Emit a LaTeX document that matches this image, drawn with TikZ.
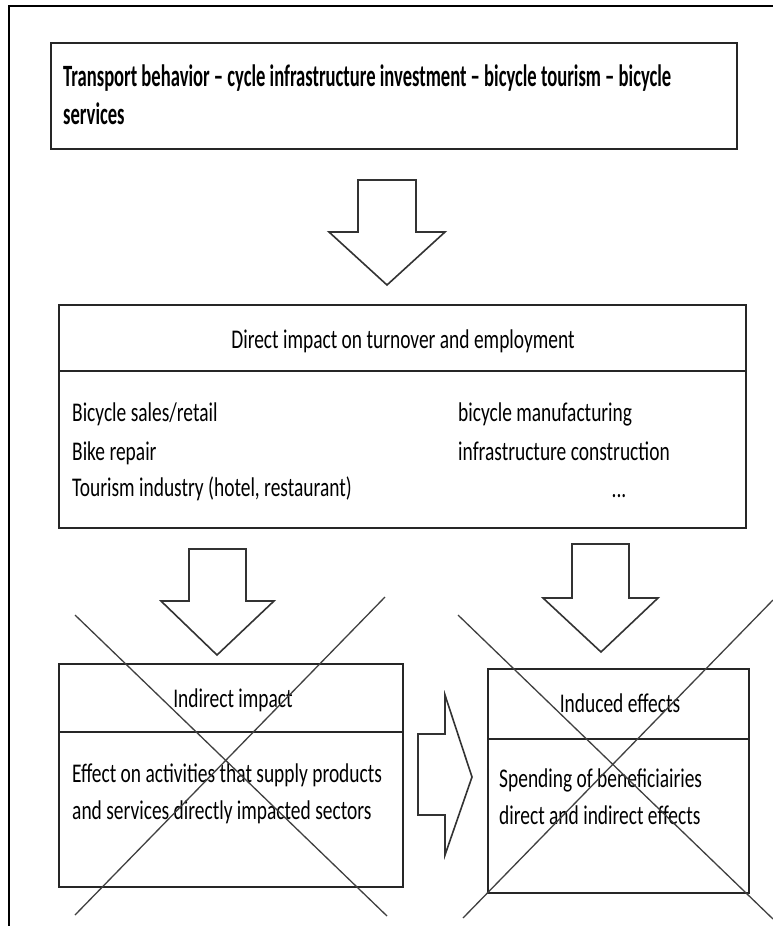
\documentclass[tikz,border=0pt]{standalone}
\usepackage{fontspec}
% Calibri-metric family, narrowed to the tall, condensed look of the chart
\newfontfamily\topfont[FakeStretch=0.6]{Carlito Bold}
\newfontfamily\bodyfont[FakeStretch=0.72]{Carlito}
\begin{document}
\begin{tikzpicture}[x=1pt,y=-1pt,
  frameline/.style={draw=black, line width=2pt},
  boxnode/.style={rectangle, draw=black!85, line width=2pt, fill=white, inner sep=0pt},
  divider/.style={draw=black!85, line width=2pt},
  blockarrow/.style={draw=black!80, line width=1.6pt, fill=white, line join=miter},
  crossline/.style={draw=black!75, line width=1.3pt},
  toptext/.style={font=\topfont\fontsize{31}{38}\selectfont, inner sep=0pt, anchor=base west},
  bodytext/.style={font=\bodyfont\fontsize{27}{37.5}\selectfont, inner sep=0pt, anchor=base west},
]
\useasboundingbox (0,0) rectangle (773,926);
\fill[white] (0,0) rectangle (773,926);

% outer frame
\draw[frameline] (9,926) -- (9,6) -- (773,6);

% boxes
\node[boxnode, minimum width=686pt, minimum height=106pt] (src) at (394,96) {};
\node[boxnode, minimum width=687pt, minimum height=223pt] (direct) at (402.5,416.5) {};
\node[boxnode, minimum width=344pt, minimum height=223pt] (indirect) at (231,775.5) {};
\node[boxnode, minimum width=261pt, minimum height=224pt] (induced) at (618.5,781) {};

% header dividers
\coordinate (dsplit) at (0,371);
\coordinate (isplit) at (0,732);
\coordinate (nsplit) at (0,739);
\draw[divider] (direct.west |- dsplit) -- (direct.east |- dsplit);
\draw[divider] (indirect.west |- isplit) -- (indirect.east |- isplit);
\draw[divider] (induced.west |- nsplit) -- (induced.east |- nsplit);

% top box text
\node[toptext] (srcA) at (63,86) {Transport behavior – cycle infrastructure investment – bicycle tourism – bicycle};
\node[toptext] (srcB) at (63,124) {services};

% direct impact box
\node[bodytext, anchor=base] (dhead) at (403,348) {Direct impact on turnover and employment};
\node[bodytext] (d1) at (72,421.5) {Bicycle sales/retail};
\node[bodytext] (d2) at (72,460.5) {Bike repair};
\node[bodytext] (d3) at (72,496) {Tourism industry (hotel, restaurant)};
\node[bodytext] (d4) at (458,421.5) {bicycle manufacturing};
\node[bodytext] (d5) at (458,460.5) {infrastructure construction};
\node[bodytext, anchor=base] (d6) at (619,497) {...};

% indirect impact box
\node[bodytext, anchor=base] (ihead) at (233,707) {Indirect impact};
\node[bodytext] (i1) at (72,782) {Effect on activities that supply products};
\node[bodytext] (i2) at (72,819) {and services directly impacted sectors};

% induced effects box
\node[bodytext, anchor=base] (nhead) at (620,712) {Induced effects};
\node[bodytext] (n1) at (499,787) {Spending of beneficiairies};
\node[bodytext] (n2) at (499,824) {direct and indirect effects};

% block arrows
\draw[blockarrow] (358,180) -- (416,180) -- (416,232) -- (445,232) -- (387,285)
  -- (329,232) -- (358,232) -- cycle;
\draw[blockarrow] (189,549) -- (246,549) -- (246,601) -- (274,601) -- (217,655)
  -- (161,601) -- (189,601) -- cycle;
\draw[blockarrow] (572,544) -- (629,544) -- (629,598) -- (658,598) -- (601,652)
  -- (543,598) -- (572,598) -- cycle;
\draw[blockarrow] (418,734) -- (445,734) -- (445,695) -- (472,777) -- (445,855)
  -- (445,815) -- (418,815) -- cycle;

% crossing-out strokes
\draw[crossline] (75,615) -- (387,916);
\draw[crossline] (385,597) -- (75,915);
\draw[crossline] (458,615) -- (773,919);
\draw[crossline] (463,918) -- (773,600);
\end{tikzpicture}
\end{document}
